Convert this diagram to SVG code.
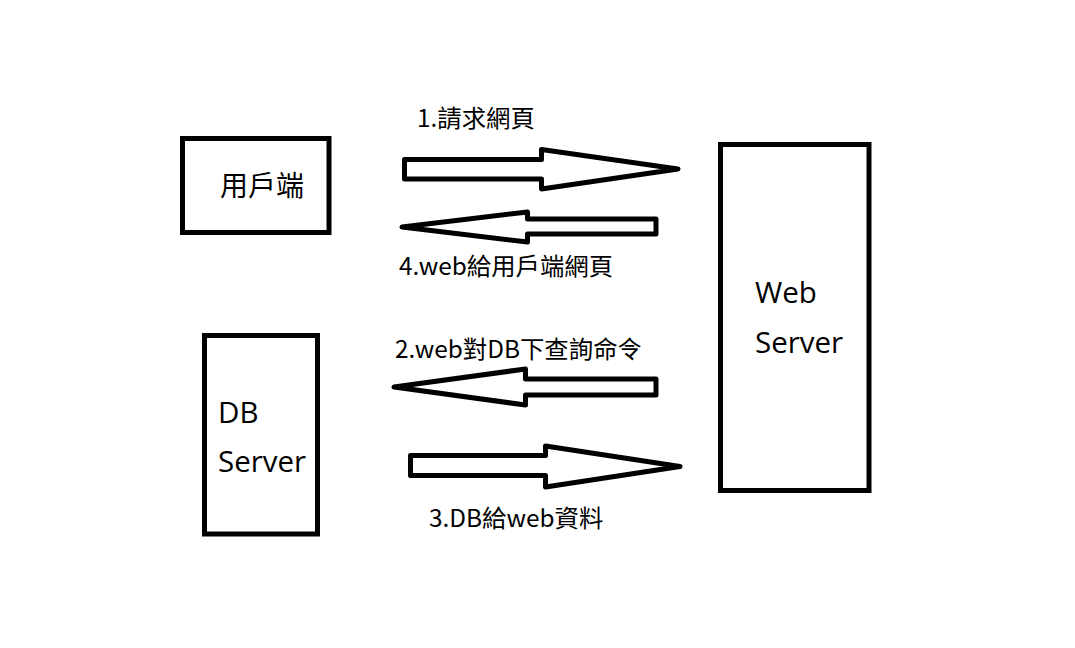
<svg xmlns="http://www.w3.org/2000/svg" width="1075" height="648" viewBox="0 0 1075 648">
<style>
.box{fill:#fff;stroke:#000;stroke-width:5}
.arr{fill:#fff;stroke:#000;stroke-width:5;stroke-linejoin:round}
.lbl{font-family:"Noto Sans CJK TC","Noto Sans",sans-serif;font-size:24.4px;fill:#000}
.cjk{font-family:"Noto Sans CJK TC",sans-serif;font-size:28px;fill:#000}
.lat{font-family:"Open Sans","Noto Sans",sans-serif;font-size:29.5px;fill:#000}
</style>
<rect width="1075" height="648" fill="#fff"/>
<g id="client">
<rect class="box" x="182.5" y="138.5" width="146.5" height="94"/>
<text class="cjk" x="220" y="196">用戶端</text>
</g>
<g id="db-server">
<rect class="box" x="204.5" y="335.5" width="113" height="198.5"/>
<text class="lat" x="218" y="423">DB</text>
<text class="lat" x="218" y="472">Server</text>
</g>
<g id="web-server">
<rect class="box" x="720.5" y="144.5" width="148.5" height="346"/>
<text class="lat" x="755" y="303">Web</text>
<text class="lat" x="755" y="353">Server</text>
</g>
<g id="connectors">
<polygon class="arr" points="404.5,159.5 541.5,159.5 541.5,149.5 678,169 541.5,189 541.5,179 404.5,179"/>
<polygon class="arr" points="402,227 527.5,212 527.5,219 656,219 656,234 527.5,234 527.5,242"/>
<polygon class="arr" points="394,387 525.5,369 525.5,379 656,379 656,395 525.5,395 525.5,405"/>
<polygon class="arr" points="410.5,455.5 545.5,455.5 545.5,446 680,466.5 545.5,487 545.5,475.5 410.5,475.5"/>
<text class="lbl" x="417" y="127">1.請求網頁</text>
<text class="lbl" x="399" y="275">4.web給用戶端網頁</text>
<text class="lbl" x="395" y="358">2.web對DB下查詢命令</text>
<text class="lbl" x="429" y="527">3.DB給web資料</text>
</g>
</svg>
